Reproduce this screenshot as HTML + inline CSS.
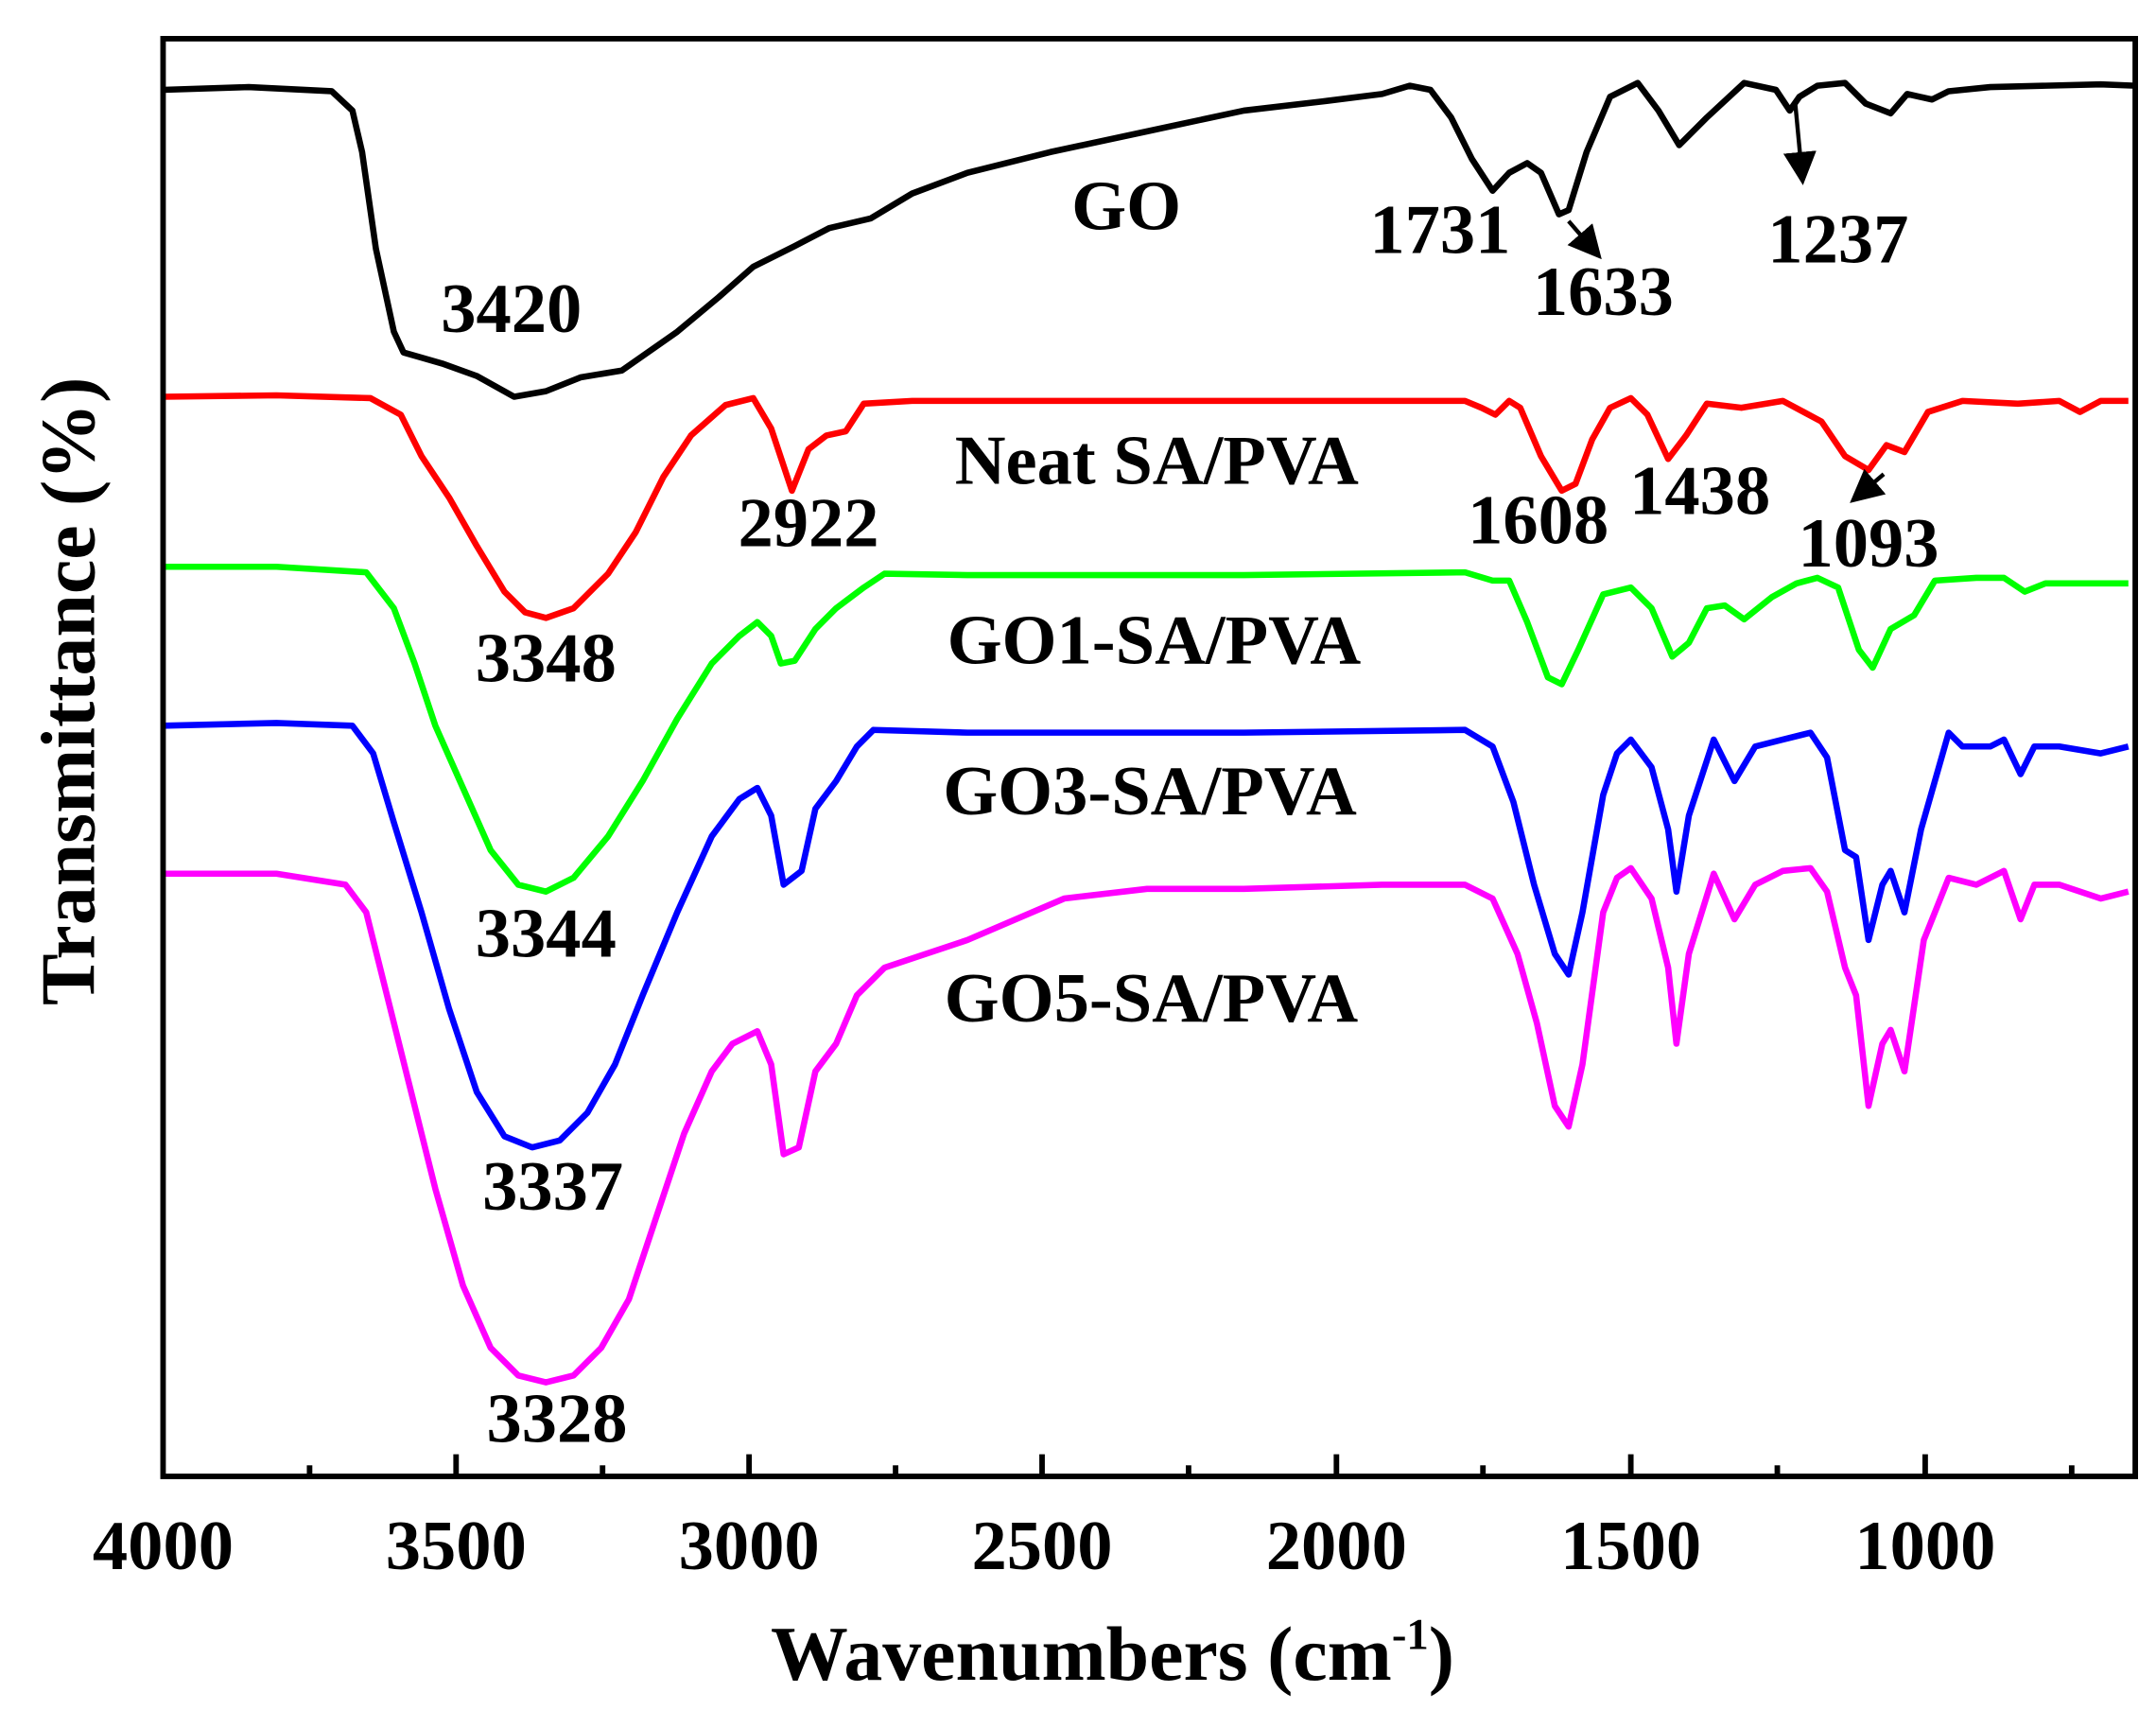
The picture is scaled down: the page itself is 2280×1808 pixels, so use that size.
<!DOCTYPE html>
<html><head><meta charset="utf-8"><style>html,body{margin:0;padding:0;background:#fff}svg{display:block}</style></head>
<body>
<svg width="2280" height="1808" viewBox="0 0 1560 1237" preserveAspectRatio="none" xmlns="http://www.w3.org/2000/svg" font-family="'Liberation Serif',serif" font-weight="bold">
<defs><marker id="ah" markerWidth="8" markerHeight="8" refX="6" refY="4" orient="auto" markerUnits="strokeWidth"><path d="M0,0 L8,4 L0,8 z" fill="#000"/></marker></defs>
<g fill="none" stroke-width="4.5" stroke-linejoin="round">
<polyline stroke="#000" points="118,65 180,63 240,66 255,80 262,110 272,180 285,240 292,255 320,263 345,272 372,287 395,283 420,273 450,268 490,240 520,215 545,193 575,178 600,165 630,158 660,140 700,125 760,110 830,95 900,80 960,73 1000,68 1020,62 1035,65 1050,85 1065,115 1080,138 1092,125 1105,118 1115,125 1128,155 1135,152 1148,110 1165,70 1185,60 1200,80 1215,105 1235,85 1262,60 1285,65 1295,80 1302,70 1315,62 1335,60 1350,75 1368,82 1380,68 1398,72 1410,66 1440,63 1480,62 1520,61 1545,62"/>
<polyline stroke="#f00" points="118,287 200,286 268,288 290,300 305,330 325,360 345,395 365,428 380,443 395,447 415,440 440,415 460,385 480,345 500,315 525,293 545,288 558,310 573,355 585,325 598,315 612,312 625,292 660,290 800,290 1000,290 1060,290 1072,295 1082,300 1092,290 1100,295 1115,330 1130,355 1140,350 1152,318 1165,295 1180,288 1192,300 1207,332 1220,315 1235,292 1260,295 1290,290 1305,298 1318,305 1335,330 1352,340 1365,322 1378,327 1395,298 1420,290 1460,292 1490,290 1505,298 1520,290 1540,290"/>
<polyline stroke="#0f0" points="118,410 200,410 265,414 285,440 300,480 315,525 335,570 355,615 375,640 395,645 415,635 440,605 465,565 490,520 515,480 535,460 548,450 558,460 565,480 575,478 590,455 605,440 625,425 640,415 700,416 900,416 1060,414 1080,420 1092,420 1105,450 1120,490 1130,495 1142,470 1160,430 1180,425 1195,440 1210,475 1222,465 1235,440 1248,438 1262,448 1282,432 1300,422 1315,418 1330,425 1345,470 1355,483 1368,455 1385,445 1400,420 1430,418 1450,418 1465,428 1480,422 1540,422"/>
<polyline stroke="#00f" points="118,525 200,523 255,525 270,545 285,595 305,660 325,730 345,790 365,822 385,830 405,825 425,805 445,770 465,720 490,660 515,605 535,578 548,570 558,590 567,640 580,630 590,585 605,565 620,540 632,528 700,530 900,530 1060,528 1080,540 1095,580 1110,640 1125,690 1135,705 1145,660 1160,575 1170,545 1180,535 1195,555 1207,600 1213,645 1222,590 1240,535 1255,565 1270,540 1290,535 1310,530 1322,548 1335,615 1343,620 1352,680 1362,640 1368,630 1378,660 1390,600 1410,530 1420,540 1440,540 1450,535 1462,560 1472,540 1490,540 1520,545 1540,540"/>
<polyline stroke="#f0f" points="118,632 200,632 250,640 265,660 280,720 295,780 315,860 335,930 355,975 375,995 395,1000 415,995 435,975 455,940 475,880 495,820 515,775 530,755 548,746 558,770 567,835 578,830 590,775 605,755 620,720 640,700 700,680 770,650 830,643 900,643 1000,640 1060,640 1080,650 1098,690 1112,740 1125,800 1135,815 1145,770 1160,660 1170,635 1180,628 1195,650 1207,700 1213,755 1222,690 1240,632 1255,665 1270,640 1290,630 1310,628 1322,645 1335,700 1343,720 1352,800 1362,755 1368,745 1378,775 1392,680 1410,635 1430,640 1450,630 1462,665 1472,640 1490,640 1520,650 1540,645"/>
</g>
<g stroke="#000" stroke-width="3" fill="none">
<line x1="1135" y1="160" x2="1155" y2="183" marker-end="url(#ah)"/>
<line x1="1299" y1="75" x2="1304" y2="128" marker-end="url(#ah)"/>
<line x1="1363" y1="343" x2="1343" y2="360" marker-end="url(#ah)"/>
</g>
<rect x="118" y="28" width="1427" height="1040" fill="none" stroke="#000" stroke-width="4"/>
<g stroke="#000" stroke-width="4">
<line x1="330" y1="1068" x2="330" y2="1052"/><line x1="542" y1="1068" x2="542" y2="1052"/><line x1="754" y1="1068" x2="754" y2="1052"/><line x1="967" y1="1068" x2="967" y2="1052"/><line x1="1180" y1="1068" x2="1180" y2="1052"/><line x1="1393" y1="1068" x2="1393" y2="1052"/>
<line x1="224" y1="1068" x2="224" y2="1060"/><line x1="436" y1="1068" x2="436" y2="1060"/><line x1="648" y1="1068" x2="648" y2="1060"/><line x1="860" y1="1068" x2="860" y2="1060"/><line x1="1073" y1="1068" x2="1073" y2="1060"/><line x1="1286" y1="1068" x2="1286" y2="1060"/><line x1="1499" y1="1068" x2="1499" y2="1060"/>
</g>
<g font-size="51" text-anchor="middle">
<text x="118" y="1135">4000</text><text x="330" y="1135">3500</text><text x="542" y="1135">3000</text><text x="754" y="1135">2500</text><text x="967" y="1135">2000</text><text x="1180" y="1135">1500</text><text x="1393" y="1135">1000</text>
</g>
<text x="805" y="1215" font-size="56" text-anchor="middle">Wavenumbers (cm<tspan dy="-22" font-size="32">-1</tspan><tspan dy="22">)</tspan></text>
<text transform="translate(68,500) rotate(-90)" font-size="56" text-anchor="middle">Transmittance (%)</text>
<g font-size="51" text-anchor="middle">
<text x="815" y="166">GO</text>
<text x="837" y="350">Neat SA/PVA</text>
<text x="835" y="480">GO1-SA/PVA</text>
<text x="832" y="589">GO3-SA/PVA</text>
<text x="833" y="739">GO5-SA/PVA</text>
</g>
<g font-size="51" text-anchor="middle">
<text x="370" y="240">3420</text><text x="1042" y="183">1731</text><text x="1160" y="228">1633</text><text x="1330" y="190">1237</text>
<text x="585" y="395">2922</text><text x="395" y="493">3348</text><text x="1113" y="393">1608</text><text x="1230" y="372">1438</text><text x="1352" y="410">1093</text>
<text x="395" y="692">3344</text><text x="400" y="875">3337</text><text x="403" y="1043">3328</text>
</g>
</svg>
</body></html>
